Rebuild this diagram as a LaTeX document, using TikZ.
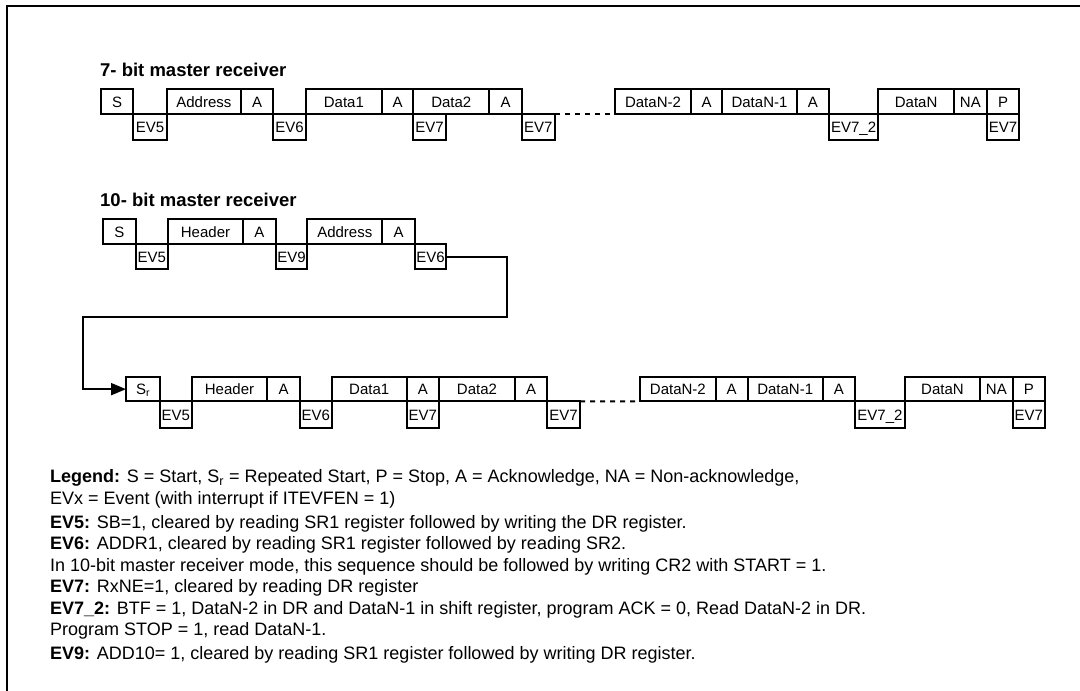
\documentclass[tikz,border=0pt]{standalone}
\usepackage{fontspec}
\setmainfont{Liberation Sans}
\usetikzlibrary{arrows.meta}
\tikzset{
  box/.style={draw, line width=2pt, inner sep=0pt, outer sep=0pt,
    font=\fontsize{15}{17}\selectfont, text height=10.8pt, text depth=0pt},
  ttl/.style={font=\fontsize{18.5}{20}\selectfont\bfseries, anchor=base west, inner sep=0pt},
  leg/.style={font=\fontsize{18}{21.6}\selectfont, anchor=base west, inner sep=0pt},
  conn/.style={line width=2pt},
  dots/.style={line width=2pt, dash pattern=on 5pt off 5pt},
  frame/.style={line width=2pt},
}
% \bx{name}{x1}{x2}{y1}{y2}{text}
\newcommand{\bx}[6]{%
  \node[box, minimum width={(#3-#2)*1pt}, minimum height={(#5-#4)*1pt}]
    (#1) at ({(#2+#3)/2},{(#4+#5)/2}) {#6};}
\begin{document}
\begin{tikzpicture}[x=1pt,y=-1pt]
\useasboundingbox (0,0) rectangle (1080,691);
\draw[frame] (7.3,691) -- (7.3,5.7) -- (1080,5.7);

% ---------- 7-bit master receiver ----------
\node[ttl] (t7) at (100,76.5) {7- bit master receiver};
\def\ya{89.3}\def\yb{114.3}\def\yc{140}
\bx{a1}{101}{133.3}{\ya}{\yb}{S}
\bx{a2}{166.7}{241}{\ya}{\yb}{Address}
\bx{a3}{241}{273.3}{\ya}{\yb}{A}
\bx{a4}{306}{381.7}{\ya}{\yb}{Data1}
\bx{a5}{381.7}{413.3}{\ya}{\yb}{A}
\bx{a6}{413.3}{489.3}{\ya}{\yb}{Data2}
\bx{a7}{489.3}{521.7}{\ya}{\yb}{A}
\bx{a8}{615}{691}{\ya}{\yb}{DataN-2}
\bx{a9}{691}{722.3}{\ya}{\yb}{A}
\bx{a10}{722.3}{796.7}{\ya}{\yb}{DataN-1}
\bx{a11}{796.7}{829}{\ya}{\yb}{A}
\bx{a12}{878.3}{954}{\ya}{\yb}{DataN}
\bx{a13}{954}{986.7}{\ya}{\yb}{NA}
\bx{a14}{986.7}{1019.3}{\ya}{\yb}{P}
\bx{ae1}{133.3}{166.7}{\yb}{\yc}{EV5}
\bx{ae2}{273.3}{306}{\yb}{\yc}{EV6}
\bx{ae3}{413.3}{446}{\yb}{\yc}{EV7}
\bx{ae4}{521.7}{555}{\yb}{\yc}{EV7}
\bx{ae5}{829}{878.3}{\yb}{\yc}{EV7\_2}
\bx{ae6}{986.7}{1019.3}{\yb}{\yc}{EV7}
\draw[dots] (ae4.north east) -- (a8.south west);

% ---------- 10-bit master receiver ----------
\node[ttl] (t10) at (100,206) {10- bit master receiver};
\def\ya{219}\def\yb{244.3}\def\yc{269.3}
\bx{b1}{102.7}{136}{\ya}{\yb}{S}
\bx{b2}{167.7}{243.3}{\ya}{\yb}{Header}
\bx{b3}{243.3}{275.7}{\ya}{\yb}{A}
\bx{b4}{307.3}{382.3}{\ya}{\yb}{Address}
\bx{b5}{382.3}{415}{\ya}{\yb}{A}
\bx{be1}{136}{167.7}{\yb}{\yc}{EV5}
\bx{be2}{275.7}{307.3}{\yb}{\yc}{EV9}
\bx{be3}{415}{446}{\yb}{\yc}{EV6}

% ---------- after repeated start ----------
\def\ya{377}\def\yb{401.3}\def\yc{428.3}
\bx{c1}{126}{160}{\ya}{\yb}{S\textsubscript{r}}
\bx{c2}{191.7}{267.3}{\ya}{\yb}{Header}
\bx{c3}{267.3}{300}{\ya}{\yb}{A}
\bx{c4}{331.7}{406.7}{\ya}{\yb}{Data1}
\bx{c5}{406.7}{439}{\ya}{\yb}{A}
\bx{c6}{439}{515}{\ya}{\yb}{Data2}
\bx{c7}{515}{547.3}{\ya}{\yb}{A}
\bx{c8}{640}{715.7}{\ya}{\yb}{DataN-2}
\bx{c9}{715.7}{747.7}{\ya}{\yb}{A}
\bx{c10}{747.7}{822.7}{\ya}{\yb}{DataN-1}
\bx{c11}{822.7}{855}{\ya}{\yb}{A}
\bx{c12}{905}{980}{\ya}{\yb}{DataN}
\bx{c13}{980}{1012.7}{\ya}{\yb}{NA}
\bx{c14}{1012.7}{1045}{\ya}{\yb}{P}
\bx{ce1}{160}{191.7}{\yb}{\yc}{EV5}
\bx{ce2}{300}{331.7}{\yb}{\yc}{EV6}
\bx{ce3}{406.7}{439}{\yb}{\yc}{EV7}
\bx{ce4}{547.3}{580}{\yb}{\yc}{EV7}
\bx{ce5}{855}{905}{\yb}{\yc}{EV7\_2}
\bx{ce6}{1012.7}{1045}{\yb}{\yc}{EV7}
\draw[dots] (ce4.north east) -- (c8.south west);

% ---------- connector ----------
\coordinate (k1) at (506.7,316.7);
\coordinate (k2) at (82.7,316.7);
\draw[conn, -{Triangle[length=15pt,width=12pt]}] (be3.east) -| (k1) -- (k2) |- (c1.west);

% ---------- legend ----------
\node[leg] (l1) at (50,482.5) {\textbf{Legend:} S = Start, S\textsubscript{r} = Repeated Start, P = Stop, A = Acknowledge, NA = Non-acknowledge,};
\node[leg] (l2) at (50,504) {EVx = Event (with interrupt if ITEVFEN = 1)};
\node[leg] (l3) at (50,528) {\textbf{EV5:} SB=1, cleared by reading SR1 register followed by writing the DR register.};
\node[leg] (l4) at (50,549.5) {\textbf{EV6:} ADDR1, cleared by reading SR1 register followed by reading SR2.};
\node[leg] (l5) at (50,571) {In 10-bit master receiver mode, this sequence should be followed by writing CR2 with START = 1.};
\node[leg] (l6) at (50,592.5) {\textbf{EV7:} RxNE=1, cleared by reading DR register};
\node[leg] (l7) at (50,614) {\textbf{EV7\_2:} BTF = 1, DataN-2 in DR and DataN-1 in shift register, program ACK = 0, Read DataN-2 in DR.};
\node[leg] (l8) at (50,635.5) {Program STOP = 1, read DataN-1.};
\node[leg] (l9) at (50,659.5) {\textbf{EV9:} ADD10= 1, cleared by reading SR1 register followed by writing DR register.};
\end{tikzpicture}
\end{document}
